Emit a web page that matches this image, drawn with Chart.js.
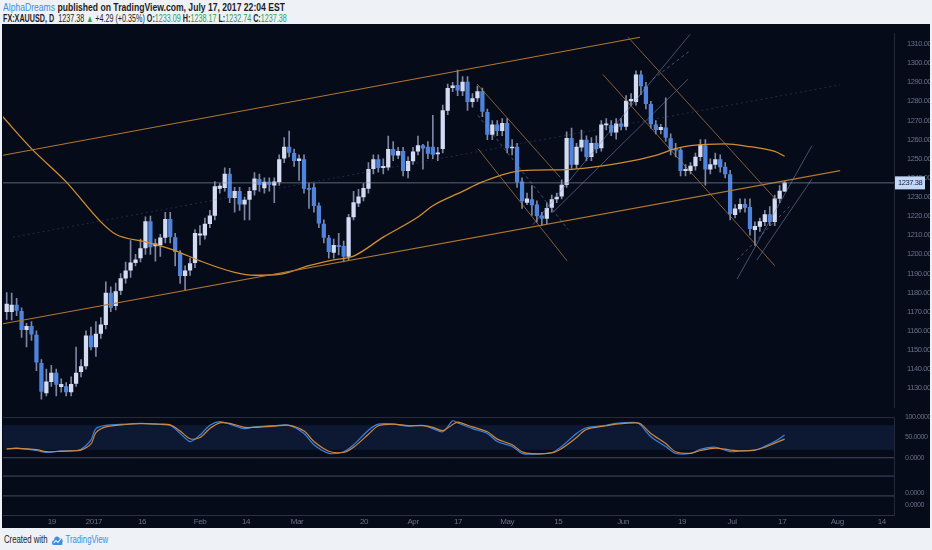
<!DOCTYPE html>
<html>
<head>
<meta charset="utf-8">
<script src="https://cdn.jsdelivr.net/npm/chart.js@4.4.0/dist/chart.umd.min.js"></script>
<style>
  html, body { margin: 0; padding: 0; }
  body {
    width: 932px; height: 550px; position: relative; overflow: hidden;
    background: #eef1f5;
    font-family: 'Liberation Sans', Arial, sans-serif;
  }
  .fit { position: absolute; white-space: nowrap; transform-origin: 0 50%; }
  #h1 { left: 3px; top: 2px; font-size: 10px; line-height: 11px; color: #1e1e1e; font-weight: bold; }
  #h2 { left: 3px; top: 13px; font-size: 10px; line-height: 11px; color: #1e1e1e; font-weight: bold; }
  .blue { color: #3a8ee0; font-weight: normal; }
  .g { color: #2f9e44; font-weight: normal; }
  .n { font-weight: normal; }
  #frame { position: absolute; left: 2px; top: 24px; width: 928px; height: 504px; background: #060b19; }
  #mainBox { position: absolute; left: 0; top: 0; width: 928px; height: 393px; }
  #stochBox { position: absolute; left: 0; top: 386px; width: 928px; height: 118px; }
  #foot { left: 4px; top: 534px; font-size: 10px; line-height: 12px; color: #222; }
  #foot svg { vertical-align: -3px; margin: 0 2px 0 5px; }
</style>
</head>
<body>
<div id="h1" class="fit"><span class="blue">AlphaDreams</span> published on TradingView.com, July 17, 2017 22:04 EST</div>
<div id="h2" class="fit">FX:XAUUSD, D <span class="n">&nbsp;1237.38</span> <span class="g">▲</span> <span class="n">+4.29 (+0.35%)</span> O:<span class="g">1233.09</span> H:<span class="g">1238.17</span> L:<span class="g">1232.74</span> C:<span class="g">1237.38</span></div>
<div id="frame">
  <div id="mainBox"><canvas id="main"></canvas></div>
  <div id="stochBox"><canvas id="stoch"></canvas></div>
</div>
<div id="foot" class="fit">Created with<svg width="16" height="12" viewBox="0 0 16 12"><path d="M3 11 C0 11 0 6 3.5 6.5 C3.5 2 9 1 10.5 4.5 C13 3.5 16 6 14 9 C15 11 13 11 12 11 Z" fill="#3a8ee0"/><path d="M3 9 L6 6.5 L8.5 8.5 L12.5 4.5" stroke="#eef1f5" stroke-width="1.2" fill="none"/></svg><span class="blue">TradingView</span></div>

<script>
// daily candles, Dec 2016 .. Jul 17 2017
const candleOpen = [1170,1170,1173.5,1170.2,1160.7,1162.4,1157.8,1143,1127.6,1133.4,
  1138,1130.9,1130.9,1128.1,1132.5,1138.7,1141.7,1157.4,1151.6,1158.7,
  1163.2,1179.8,1173.2,1181.1,1187.6,1191.7,1195.6,1198.1,1203.4,1217.1,
  1204.4,1205,1208.8,1218.3,1208.8,1200.5,1188.9,1191.7,1195.6,1210,
  1210,1216,1220.4,1234.5,1234.9,1242,1229.6,1232.9,1226.2,1228.7,
  1233.7,1239.2,1234.8,1237.8,1236.2,1237.9,1250.3,1256.1,1252.8,1249,
  1249.5,1234.5,1234.9,1225.4,1215.8,1208.5,1201,1204.7,1204.2,1198.9,
  1219.6,1226.8,1230.1,1234.5,1244.8,1249.5,1245.3,1245.6,1254.9,1251.9,
  1253.9,1243.7,1248.9,1253.9,1256.9,1256.1,1256.1,1252.5,1255.3,1275.2,
  1287.1,1288.4,1285.5,1290.1,1279.8,1281.8,1285.1,1274.3,1262.7,1267.7,
  1264.7,1268.5,1255.6,1256.1,1237.9,1227.2,1228.7,1225.9,1220.1,1218.8,
  1224.6,1229,1230.4,1236.5,1260.7,1247,1256.1,1259.8,1251.1,1258.1,
  1255.6,1267.7,1267.4,1263.9,1268.2,1266.9,1280.2,1279.8,1293.9,1287.6,
  1278.5,1267.7,1265.2,1266.1,1260.5,1255,1254.5,1243.7,1243.7,1246.2,
  1251.1,1256.9,1244.5,1247,1249.5,1245.7,1241.7,1220.8,1223.8,1226.2,
  1224.6,1212.9,1214.6,1217.1,1220.8,1217.1,1229.2,1233.09];
const candleHigh = [1180,1179.8,1177,1172,1164,1164.9,1160,1145,1140,1142,
  1140,1135,1133,1136,1151.6,1145,1160,1162,1164.9,1167,
  1185.6,1183,1185,1190,1196,1207.2,1200,1208,1219.6,1220,
  1208,1210.5,1222,1222,1211,1202,1194,1198,1213,1215,
  1219,1223,1238,1237,1245.3,1245,1235,1235,1230,1235,
  1242.8,1242,1240,1240,1240,1252,1261.1,1264.4,1255,1252,
  1252,1237,1237,1227,1218,1210,1208,1211,1207,1221,
  1233,1234,1237,1248,1252,1252,1250,1261.9,1259,1256,
  1256,1251,1256,1261.9,1257.5,1259,1272.7,1256,1278,1289,
  1290,1296.4,1293,1293,1284,1288,1287,1276,1270,1270,
  1271,1271,1260,1258,1240,1232,1236,1228,1222,1227,
  1231,1232,1239,1264,1266,1258,1265,1262,1261,1262,
  1270,1271,1270,1271,1271,1283,1284,1296,1296,1290,
  1280,1270,1268,1281.8,1263,1258,1256,1247,1248,1253,
  1260,1260,1250,1253,1252,1248,1244,1226,1229,1229,
  1229,1217,1219,1223,1225,1231,1236,1238.17];
const candleLow = [1166,1165.7,1168,1156.6,1151.6,1155,1139.2,1124.3,1126,1131,
  1126,1128,1126,1126,1131,1136,1140,1150,1146.6,1156,
  1161,1170,1171,1179,1185,1188,1194,1196,1200,1200,
  1196.4,1198.9,1206,1206,1193.9,1184.8,1181.5,1189,1193,1205,
  1208,1214,1218,1232,1233,1227,1222.1,1223,1218,1218,
  1231,1233,1232,1233,1227,1236,1248,1251,1246,1238.7,
  1232,1224,1222,1214,1206,1198,1198,1199.7,1196,1197,
  1218,1225,1227.9,1232,1242,1243,1242,1244,1249,1250,
  1241,1240,1247,1252,1244.5,1250,1250,1249,1253,1273,
  1285,1283,1283,1275.2,1277,1280,1272,1260,1260,1262,
  1262,1253,1252,1235,1224,1226,1220.4,1217,1215,1216,
  1222,1227,1229,1235,1245,1245,1254,1249,1249,1253,
  1254,1265,1262,1260.2,1265,1265,1278,1278,1283.5,1276,
  1266,1263,1263,1259,1252,1251,1241,1241,1242,1244,
  1249,1236.2,1242,1245,1243,1240,1218,1219,1222,1222,
  1210,1204.7,1212,1215,1215,1215,1227,1232.74];
const candleClose = [1174,1173.5,1170.7,1160.7,1162.4,1158.3,1143.7,1128.4,1133.4,1138,
  1132,1132.1,1128.1,1132.1,1138,1141.3,1157.4,1151.6,1158.3,1163.2,
  1179.8,1172.3,1180.6,1187.3,1191.4,1195.6,1197.2,1203,1217.1,1203.9,
  1205.5,1208.7,1218.3,1209.3,1201.4,1188.9,1191.4,1195.2,1211,1210.8,
  1215.8,1220.1,1235.4,1235.7,1242,1229.6,1232.9,1226.2,1228.4,1232.9,
  1239.5,1236.5,1237.8,1236.6,1237.9,1249.5,1256.1,1253.3,1249,1250,
  1234.5,1234,1225.4,1216.3,1208.8,1201.4,1204.7,1204,1198.9,1219.3,
  1227.1,1230.1,1234.5,1244.5,1249.5,1245.3,1246,1254.9,1251.9,1253.9,
  1243.7,1248.6,1253.6,1256.9,1255.5,1252.8,1252.3,1253,1275.2,1286.8,
  1288.1,1285.9,1290.1,1279.8,1281.5,1285.1,1274.8,1262.7,1267.7,1264.7,
  1268.5,1255.6,1256,1237.9,1227.9,1229,1225.9,1220.1,1218.8,1224.1,
  1228.7,1230,1236.2,1260.7,1247,1256.1,1259.8,1251.1,1258.1,1255.3,
  1267.7,1268,1263.9,1268.2,1266.9,1280.2,1281,1293.9,1288.1,1278.8,
  1268.2,1265.2,1266.4,1261.1,1254.9,1254.5,1243.7,1244.5,1246.2,1250.8,
  1257.3,1244.5,1247,1249.5,1245.7,1242,1221.3,1223.8,1226.2,1224.6,
  1213.5,1214.6,1217.1,1220.8,1217.1,1229,1233.09,1237.38];
const lastPrice = 1237.38;

// orange moving average, sampled along the curve
const maIdx = [-1,5,12,19,22,28,34,39,46,50,55,61,66,70,76,83,86,92,96,104,113,124,131,135,138,145,150,155,157];
const maVal = [1272.5,1255.3,1237.9,1217.0,1210.5,1206.5,1202.0,1196.6,1190.6,1189.1,1189.6,1194.1,1197.1,1199.1,
  1209.0,1219.5,1225.4,1232.9,1237.9,1243.8,1244.3,1247.8,1251.8,1255.3,1256.8,1257.8,1256.3,1253.8,1251.3];

// stochastic (%K blue, %D orange)
const stochIdx = [0,2,6,8,11,13,15,17,18,20,24,27,31,33,35,37,39,41,43,45,48,50,54,57,60,62,65,68,70,73,
  75,78,81,84,86,88,90,91,94,97,99,102,104,106,110,112,115,117,121,123,127,128,130,133,135,138,140,143,146,148,
  151,153,155,157];
const stochK = [21,24,18,13,17,17,21,44,72,80,83,85,82,80,60,40,56,80,89,83,72,76,79,80,60,32,11,15,32,68,
  83,83,78,80,72,64,91,86,72,60,40,28,11,9,13,28,60,74,80,85,87,80,52,28,11,11,21,26,15,17,
  19,28,40,56];
const stochD = [22,23,20,15,16,17,19,34,62,76,82,84,83,81,66,47,50,72,86,85,75,75,78,80,66,40,16,13,26,58,
  79,83,79,79,75,67,82,88,76,64,46,32,15,10,12,23,50,70,79,83,86,83,60,35,15,11,18,24,19,17,
  19,26,36,46];

// drawn trend lines, as [bar index, price] end points
const channelMain = [[[-0.75,1251.8],[127.8,1313.5]], [[-0.75,1163.7],[168.2,1243.8]]];
const channelMedian = [[1.27,1209.0],[168.2,1288.6]];
const channelsThinOrange = [
  [[94.9,1289.1],[111.7,1240.3]], [[95.1,1255.3],[113.1,1196.6]],
  [[120.3,1294.1],[155.0,1194.1]], [[125.4,1313.5],[155.5,1227.9]]];
const channelsThinBlue = [
  [[106.2,1215.5],[137.9,1315.0]], [[110.2,1221.9],[137.5,1291.6]],
  [[147.4,1187.1],[162.5,1256.8]], [[151.4,1197.1],[162.5,1239.4]]];
const channelsDashed = [
  [[95.1,1272.7],[113.3,1213.0]], [[130.4,1291.6],[137.9,1306.5]], [[147.4,1197.1],[158.1,1225.4]]];

// axes
const priceTicks = [1130,1140,1150,1160,1170,1180,1190,1200,1210,1220,1230,1240,1250,1260,1270,1280,1290,1300,1310];
const xTickIdx = [9.1,17.6,27.3,39,48.3,58.6,72.1,82,91.1,101,111.3,124.4,136.3,146.4,156.5,167.6,176.6];
const xTickText = ['19','2017','16','Feb','14','Mar','20','Apr','17','May','15','Jun','19','Jul','17','Aug','14'];
const stochTicks = [100, 50, 0, -87, -116];
const stochTickText = ['100.0000', '50.0000', '0.0000', '0.0000', '0.0000'];
const panelLevels = [100, 0, -45, -94];

// squeeze the header / footer lines to the reference widths
[['h1', 282], ['h2', 284], ['foot', 104]].forEach(([id, w]) => {
  const el = document.getElementById(id);
  el.style.transform = 'scaleX(' + (w / el.scrollWidth) + ')';
});

const xMin = -0.75, xMax = 179.07;
const tickFont = "'Liberation Sans', Arial, sans-serif";
Chart.defaults.font.family = tickFont;
Chart.defaults.animation = false;

const upCol = '#d4dcf4', downCol = '#4f84dc';
const axisText = '#687185';

function seg(pts, color, width, dash) {
  return {
    type: 'line',
    data: pts.map(p => ({ x: p[0], y: p[1] })),
    borderColor: color, borderWidth: width, borderDash: dash || [],
    pointRadius: 0, fill: false, order: 1
  };
}

// tighter text, the reference uses a condensed face
const narrowText = { id: 'narrowText', beforeDraw(chart) { chart.ctx.letterSpacing = '-0.4px'; } };

const priceTag = {
  id: 'priceTag',
  afterDraw(chart) {
    const ctx = chart.ctx;
    const y = chart.scales.y.getPixelForValue(lastPrice);
    const x0 = chart.chartArea.right + 1;
    ctx.save();
    ctx.fillStyle = '#c3d7f6';
    ctx.fillRect(x0, y - 6.5, 30, 13);
    ctx.fillStyle = '#13213d';
    ctx.font = "7.5px " + tickFont;
    ctx.textBaseline = 'middle';
    ctx.fillText(lastPrice.toFixed(2), x0 + 3, y + 0.5);
    ctx.restore();
  }
};

const isUp = candleClose.map((c, i) => c >= candleOpen[i]);

const mainSets = [
  {
    label: 'wick',
    data: candleClose.map((c, i) => ({ x: i, y: [candleLow[i], candleHigh[i]] })),
    backgroundColor: '#7d87a3', barThickness: 1, grouped: false, order: 5
  },
  {
    label: 'body',
    data: candleClose.map((c, i) => ({ x: i, y: [candleOpen[i], c] })),
    backgroundColor: isUp.map(u => u ? upCol : downCol),
    barThickness: 3.6, minBarLength: 1, grouped: false, order: 4
  },
  {
    type: 'line', label: 'MA',
    data: maIdx.map((x, i) => ({ x: x, y: maVal[i] })),
    borderColor: '#d28e2e', borderWidth: 1.3, pointRadius: 0, tension: 0.4,
    cubicInterpolationMode: 'monotone', fill: false, order: 2
  },
  seg([[xMin, lastPrice], [xMax, lastPrice]], 'rgba(150,160,182,0.6)', 1),
  seg(channelMedian, 'rgba(100,120,165,0.3)', 1, [2, 3])
];
channelMain.forEach(l => mainSets.push(seg(l, '#b0772f', 1.1)));
channelsThinOrange.forEach(l => mainSets.push(seg(l, 'rgba(185,130,65,0.7)', 1)));
channelsThinBlue.forEach(l => mainSets.push(seg(l, 'rgba(120,140,180,0.55)', 1)));
channelsDashed.forEach(l => mainSets.push(seg(l, 'rgba(120,145,195,0.55)', 1, [3, 3])));

new Chart(document.getElementById('main'), {
  type: 'bar',
  data: { datasets: mainSets },
  options: {
    responsive: true, maintainAspectRatio: false, animation: false,
    layout: { padding: { left: 1, top: 0, right: 0, bottom: 0 } },
    plugins: { legend: { display: false }, tooltip: { enabled: false } },
    scales: {
      x: { type: 'linear', min: xMin, max: xMax, display: false, offset: false },
      y: {
        position: 'right', min: 1119.95, max: 1315.47,
        afterFit(s) { s.width = 36; },
        afterBuildTicks(s) { s.ticks = priceTicks.map(v => ({ value: v })); },
        ticks: { callback: v => Number(v).toFixed(2), color: axisText, font: { size: 7.5 }, padding: 5 },
        grid: { display: false },
        border: { display: true, color: '#222939' }
      }
    }
  },
  plugins: [narrowText, priceTag]
});

const stochSets = [
  { data: [{ x: xMin, y: 80 }, { x: xMax, y: 80 }], borderWidth: 0, pointRadius: 0,
    backgroundColor: 'rgba(26,50,95,0.38)', fill: '+1', order: 5 },
  { data: [{ x: xMin, y: 20 }, { x: xMax, y: 20 }], borderWidth: 0, pointRadius: 0, fill: false, order: 5 }
];
panelLevels.forEach(v => stochSets.push(seg([[xMin, v], [xMax, v]], 'rgba(110,120,140,0.6)', 1)));
stochSets.push({
  data: stochIdx.map((x, i) => ({ x: x, y: stochD[i] })),
  borderColor: '#d0883a', borderWidth: 1.2, pointRadius: 0, tension: 0.3, fill: false, order: 0
});
stochSets.push({
  data: stochIdx.map((x, i) => ({ x: x, y: stochK[i] })),
  borderColor: '#3b80de', borderWidth: 1.2, pointRadius: 0, tension: 0.3, fill: false, order: 0
});

new Chart(document.getElementById('stoch'), {
  type: 'line',
  data: { datasets: stochSets },
  options: {
    responsive: true, maintainAspectRatio: false, animation: false,
    layout: { padding: { left: 1, top: 7, right: 0, bottom: 0 } },
    plugins: { legend: { display: false }, tooltip: { enabled: false } },
    scales: {
      x: {
        type: 'linear', min: xMin, max: xMax, offset: false,
        afterFit(s) { s.height = 13; },
        afterBuildTicks(s) { s.ticks = xTickIdx.map(v => ({ value: v })); },
        ticks: { callback: (v, i) => xTickText[i], color: axisText, font: { size: 8 },
          padding: 2, maxRotation: 0, autoSkip: false },
        grid: { display: false, drawTicks: false },
        border: { display: true, color: '#2a3142' }
      },
      y: {
        position: 'right', min: -141, max: 100,
        afterFit(s) { s.width = 36; },
        afterBuildTicks(s) { s.ticks = stochTicks.map(v => ({ value: v })); },
        ticks: { callback: (v, i) => stochTickText[i], color: axisText, font: { size: 7 }, padding: 3 },
        grid: { display: false },
        border: { display: true, color: '#222939' }
      }
    }
  },
  plugins: [narrowText]
});
</script>
</body>
</html>
